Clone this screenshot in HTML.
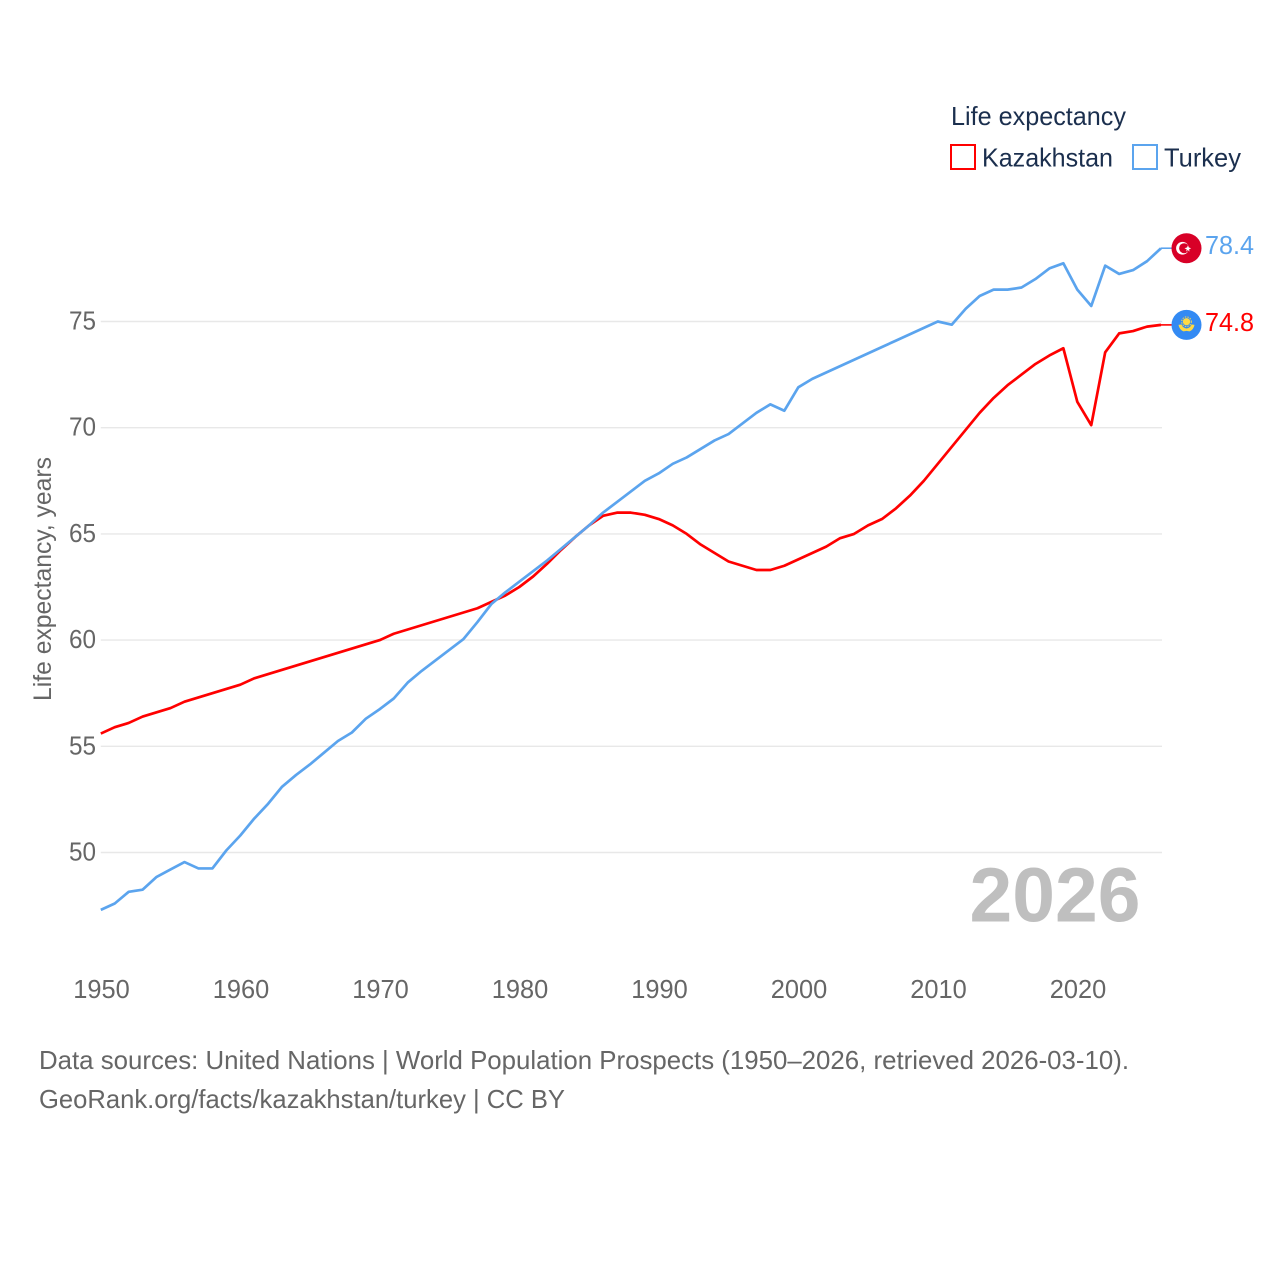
<!DOCTYPE html>
<html lang="en">
<head>
<meta charset="utf-8">
<title>Life expectancy: Kazakhstan and Turkey</title>
<style>
html,body{margin:0;padding:0;background:#fff;width:1280px;height:1280px;overflow:hidden}
svg{display:block}
text{font-family:"Liberation Sans",sans-serif}
</style>
</head>
<body>
<svg id="chart" xmlns="http://www.w3.org/2000/svg" width="1280" height="1280" viewBox="0 0 1280 1280">
  <rect width="1280" height="1280" fill="#fff"/>
  <g id="grid"></g>
  <g id="yticks"></g>
  <g id="xticks"></g>
  <text transform="translate(51 701) rotate(-90)" font-size="25" fill="#666" textLength="244" lengthAdjust="spacingAndGlyphs">Life expectancy, years</text>
  <text x="969.5" y="921.5" font-size="77" font-weight="700" fill="#bfbfbf" textLength="171" lengthAdjust="spacingAndGlyphs">2026</text>
  <g id="series"></g>

  <g>
    <text x="951" y="125" font-size="26" fill="#1b2f4e" textLength="175" lengthAdjust="spacingAndGlyphs">Life expectancy</text>
    <g>
      <rect x="951" y="145" width="24" height="24" fill="#fff" stroke="#ff0000" stroke-width="2"/>
      <text x="982" y="166.5" font-size="26" fill="#1b2f4e" textLength="131" lengthAdjust="spacingAndGlyphs">Kazakhstan</text>
    </g>
    <g>
      <rect x="1133" y="145" width="24" height="24" fill="#fff" stroke="#5ba4ee" stroke-width="2"/>
      <text x="1164" y="166.5" font-size="26" fill="#1b2f4e" textLength="77" lengthAdjust="spacingAndGlyphs">Turkey</text>
    </g>
  </g>

  <g id="ends"></g>

  <text x="39" y="1069" font-size="26" fill="#666" textLength="1090" lengthAdjust="spacingAndGlyphs">Data sources: United Nations | World Population Prospects (1950–2026, retrieved 2026-03-10).</text>
  <text x="39" y="1108" font-size="26" fill="#666" textLength="526" lengthAdjust="spacingAndGlyphs">GeoRank.org/facts/kazakhstan/turkey | CC BY</text>
</svg>
<script>
const years = [1950,1951,1952,1953,1954,1955,1956,1957,1958,1959,1960,1961,1962,1963,1964,1965,1966,1967,1968,1969,1970,1971,1972,1973,1974,1975,1976,1977,1978,1979,1980,1981,1982,1983,1984,1985,1986,1987,1988,1989,1990,1991,1992,1993,1994,1995,1996,1997,1998,1999,2000,2001,2002,2003,2004,2005,2006,2007,2008,2009,2010,2011,2012,2013,2014,2015,2016,2017,2018,2019,2020,2021,2022,2023,2024,2025,2026];
const kazakhstan = [55.6,55.9,56.1,56.4,56.6,56.8,57.1,57.3,57.5,57.7,57.9,58.2,58.4,58.6,58.8,59.0,59.2,59.4,59.6,59.8,60.0,60.3,60.5,60.7,60.9,61.1,61.3,61.5,61.8,62.1,62.5,63.0,63.6,64.25,64.85,65.4,65.85,66.0,66.0,65.9,65.7,65.4,65.0,64.5,64.1,63.7,63.5,63.3,63.3,63.5,63.8,64.1,64.4,64.8,65.0,65.4,65.7,66.2,66.8,67.5,68.3,69.1,69.9,70.7,71.4,72.0,72.5,73.0,73.4,73.74,71.22,70.12,73.55,74.44,74.55,74.76,74.84];
const turkey = [47.3,47.6,48.15,48.25,48.85,49.2,49.55,49.25,49.25,50.1,50.8,51.6,52.3,53.1,53.65,54.15,54.7,55.25,55.65,56.3,56.75,57.25,58.0,58.55,59.05,59.55,60.05,60.85,61.7,62.25,62.75,63.25,63.75,64.3,64.85,65.4,66.0,66.5,67.0,67.5,67.85,68.3,68.6,69.0,69.4,69.7,70.2,70.7,71.1,70.8,71.9,72.3,72.6,72.9,73.2,73.5,73.8,74.1,74.4,74.7,75.0,74.85,75.6,76.2,76.5,76.5,76.6,77.0,77.5,77.74,76.5,75.73,77.63,77.24,77.42,77.84,78.45];
const yTickValues = [50,55,60,65,70,75];
const xTickValues = [1950,1960,1970,1980,1990,2000,2010,2020];
const kazakhstanLabel = "74.8";
const turkeyLabel = "78.4";

const NS = "http://www.w3.org/2000/svg";
function xScale(year){ return 100.8 + (year - 1950) * 13.95; }
function yScale(value){ return 321.5 + (75 - value) * 21.24; }
function make(tag, attrs, parent, text){
  const el = document.createElementNS(NS, tag);
  for (const k in attrs) el.setAttribute(k, attrs[k]);
  if (text !== undefined) el.textContent = text;
  parent.appendChild(el);
  return el;
}
const gridG = document.getElementById('grid');
const yG = document.getElementById('yticks');
const xG = document.getElementById('xticks');
const seriesG = document.getElementById('series');
const endsG = document.getElementById('ends');

yTickValues.forEach(function(v){
  const line = make('line', {x1:100.8, x2:1162, y1:yScale(v), y2:yScale(v), stroke:'#e8e8e8', 'stroke-width':1.4}, gridG);
  
  
  const label = make('text', {x:96, y:yScale(v) + 8, 'text-anchor':'end', 'font-size':26, fill:'#666', textLength:27, lengthAdjust:'spacingAndGlyphs'}, yG, String(v));
  
  
});

xTickValues.forEach(function(y){
  const label = make('text', {x:xScale(y) - 27.5, y:998, 'font-size':26, fill:'#666', textLength:56.5, lengthAdjust:'spacingAndGlyphs'}, xG, String(y));
  
  
});

function pathFor(values){
  return values.map(function(v, i){
    return (i ? 'L' : 'M') + xScale(years[i]).toFixed(2) + ' ' + yScale(v).toFixed(2);
  }).join(' ');
}

const kazLine = make('path', {d:pathFor(kazakhstan), fill:'none', stroke:'#ff0000', 'stroke-width':2.7, 'stroke-linejoin':'round'}, seriesG);


const turkeyLine = make('path', {d:pathFor(turkey), fill:'none', stroke:'#5ba4ee', 'stroke-width':2.7, 'stroke-linejoin':'round'}, seriesG);



const lastYear = years[years.length - 1];
const tkY = yScale(turkey[turkey.length - 1]);
const kzY = yScale(kazakhstan[kazakhstan.length - 1]);
const flagX = 1186.5;

const tkConn = make('line', {x1:xScale(lastYear), x2:flagX - 14, y1:tkY, y2:tkY, stroke:'#5ba4ee', 'stroke-width':1.6}, endsG);


const kzConn = make('line', {x1:xScale(lastYear), x2:flagX - 14, y1:kzY, y2:kzY, stroke:'#ff0000', 'stroke-width':1.6}, endsG);



const tkFlag = make('g', {transform:'translate(' + flagX + ' ' + tkY + ')'}, endsG);


make('circle', {r:15, fill:'#d80027'}, tkFlag);
make('circle', {cx:-4, r:6.4, fill:'#fff'}, tkFlag);
make('circle', {cx:-2.4, r:5, fill:'#d80027'}, tkFlag);
make('polygon', {points:'1,0 3.6,-0.8 4.4,-3 5.2,-0.8 7.6,0 5.6,1.2 6,3.4 4.4,1.8 2.6,3.4 3.2,1.2', fill:'#fff', transform:'translate(-3 0)'}, tkFlag);

const kzFlag = make('g', {transform:'translate(' + flagX + ' ' + kzY + ')'}, endsG);


make('circle', {r:15, fill:'#338af3'}, kzFlag);
make('circle', {cy:-3.2, r:3.6, fill:'#ffda44'}, kzFlag);
make('circle', {cy:-3.2, r:4.8, fill:'none', stroke:'#ffda44', 'stroke-width':1, 'stroke-dasharray':'1.4 1.2'}, kzFlag);
make('path', {d:'M-8 0 L-5 -0.5 Q-4 3 0 3.6 Q4 3 5 -0.5 L8 0 Q7 5 3 6.5 L0 6 L-3 6.5 Q-7 5 -8 0 Z', fill:'#ffda44'}, kzFlag);

const tkValue = make('text', {x:1205, y:tkY + 6, 'font-size':26, fill:'#5ba4ee', textLength:49, lengthAdjust:'spacingAndGlyphs'}, endsG, turkeyLabel);


const kzValue = make('text', {x:1205, y:kzY + 6, 'font-size':26, fill:'#ff0000', textLength:49, lengthAdjust:'spacingAndGlyphs'}, endsG, kazakhstanLabel);


</script>
</body>
</html>
